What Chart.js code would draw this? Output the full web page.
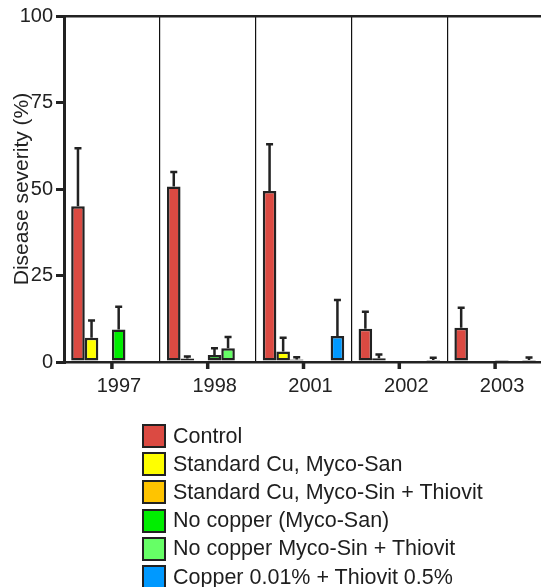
<!DOCTYPE html>
<html><head><meta charset="utf-8">
<script src="https://cdn.jsdelivr.net/npm/chart.js@4.4.1/dist/chart.umd.min.js"></script>
<style>
html,body{margin:0;padding:0;background:#fff;}
#wrap{position:relative;width:541px;height:587px;overflow:hidden;}
#c{position:absolute;left:0;top:0;}
#legend{position:absolute;left:142px;top:422px;font-family:"Liberation Sans",Arial,sans-serif;font-size:21.5px;color:#1e1e1e;}
.row{display:flex;align-items:center;height:28.2px;white-space:nowrap;}
.box{width:20px;height:20px;border:2.5px solid #222;box-sizing:content-box;margin-right:7px;flex:none;}
</style></head>
<body><div id="wrap"><canvas id="c" width="544" height="587"></canvas><div id="legend"></div></div>
<script>
const years = ['1997', '1998', '2001', '2002', '2003'];
const seriesNames = ['Control', 'Standard Cu, Myco-San', 'Standard Cu, Myco-Sin + Thiovit', 'No copper (Myco-San)', 'No copper Myco-Sin + Thiovit', 'Copper 0.01% + Thiovit 0.5%'];
const seriesColors = ['#db4a42', '#ffff00', '#ffc400', '#00ee00', '#66ff66', '#0099ff'];

const control = [45, 50.7, 49.4, 9.6, 9.9];
const controlErr = [16.8, 4.2, 13.5, 4.9, 5.8];
const stdCuMycoSan = [7, 1, 3, 1.1, 0.4];
const stdCuMycoSanErr = [5, 0.6, 4, 1.1, 0];
const stdCuMycoSinThiovit = [null, null, 0.7, null, null];
const stdCuMycoSinThiovitErr = [null, null, 0.7, null, null];
const noCuMycoSan = [9.4, 2.0, null, null, 0.3];
const noCuMycoSanErr = [6.6, 2.0, null, null, 0];
const noCuMycoSinThiovit = [null, 4.0, null, null, null];
const noCuMycoSinThiovitErr = [null, 3.2, null, null, null];
const cu001Thiovit = [null, null, 7.5, 0.6, 0.6];
const cu001ThiovitErr = [null, null, 10.4, 0.6, 0.7];

const yTicks = [0, 25, 50, 75, 100];

const values = [control, stdCuMycoSan, stdCuMycoSinThiovit, noCuMycoSan, noCuMycoSinThiovit, cu001Thiovit];
const errors = [controlErr, stdCuMycoSanErr, stdCuMycoSinThiovitErr, noCuMycoSanErr, noCuMycoSinThiovitErr, cu001ThiovitErr];

const FONT = '"Liberation Sans", Arial, sans-serif';
const INK = '#222';

const errorBars = {
  id: 'errorBars',
  afterDatasetsDraw(chart) {
    const ctx = chart.ctx, y = chart.scales.y;
    chart.data.datasets.forEach((ds, i) => {
      const meta = chart.getDatasetMeta(i);
      meta.data.forEach((bar, j) => {
        const v = ds.data[j], e = ds.errors[j];
        if (v == null || e == null || e <= 0) return;
        const yTop = y.getPixelForValue(v + e);
        ctx.save();
        ctx.strokeStyle = INK; ctx.lineWidth = 2.5;
        ctx.beginPath();
        ctx.moveTo(bar.x, bar.y); ctx.lineTo(bar.x, yTop);
        ctx.moveTo(bar.x - 3.5, yTop); ctx.lineTo(bar.x + 3.5, yTop);
        ctx.stroke();
        ctx.restore();
      });
    });
  }
};

const xTickMarks = {
  id: 'xTickMarks',
  afterDraw(chart) {
    const x = chart.scales.x, ctx = chart.ctx, b = chart.chartArea.bottom;
    ctx.save();
    ctx.strokeStyle = INK; ctx.lineWidth = 3.5;
    x.ticks.forEach((t, i) => {
      const px = x.getPixelForTick(i);
      ctx.beginPath(); ctx.moveTo(px, b); ctx.lineTo(px, b + 7); ctx.stroke();
    });
    ctx.restore();
  }
};

const chart = new Chart(document.getElementById('c'), {
  type: 'bar',
  data: {
    labels: years,
    datasets: seriesNames.map((name, i) => ({
      label: name,
      data: values[i],
      errors: errors[i],
      backgroundColor: seriesColors[i],
      borderColor: INK,
      borderWidth: 2.5,
      borderSkipped: false,
      categoryPercentage: 0.85,
      barPercentage: 1.0
    }))
  },
  options: {
    responsive: false,
    animation: false,
    layout: { padding: { top: 16, left: 0, right: 1, bottom: 177 } },
    plugins: { legend: { display: false }, tooltip: { enabled: false } },
    scales: {
      x: {
        type: 'category',
        position: 'bottom',
        grid: { display: true, offset: true, drawTicks: false, drawOnChartArea: true, color: '#111', lineWidth: 1.2 },
        border: { display: true, width: 2.5, color: INK },
        ticks: { font: { family: FONT, size: 20 }, color: INK, padding: 12, labelOffset: 7, maxRotation: 0 }
      },
      xTop: {
        type: 'category',
        position: 'top',
        grid: { display: false, drawTicks: false },
        border: { display: true, width: 2.5, color: INK },
        ticks: { display: false }
      },
      y: {
        min: 0, max: 100,
        afterBuildTicks(scale) { scale.ticks = yTicks.map(v => ({ value: v })); },
        afterFit(scale) { scale.width = 64; },
        grid: { drawOnChartArea: false, drawTicks: true, tickLength: 8, lineWidth: 3, color: INK },
        border: { display: true, width: 3, color: INK },
        ticks: { font: { family: FONT, size: 20 }, color: INK, padding: 3 },
        title: { display: true, text: 'Disease severity (%)', font: { family: FONT, size: 21 }, color: INK, padding: { top: 10, bottom: 0 } }
      }
    }
  },
  plugins: [errorBars, xTickMarks]
});

const legend = document.getElementById('legend');
chart.data.datasets.forEach(ds => {
  const row = document.createElement('div'); row.className = 'row';
  const box = document.createElement('span'); box.className = 'box'; box.style.background = ds.backgroundColor;
  const txt = document.createElement('span'); txt.textContent = ds.label;
  row.appendChild(box); row.appendChild(txt); legend.appendChild(row);
});
</script>
</body></html>
